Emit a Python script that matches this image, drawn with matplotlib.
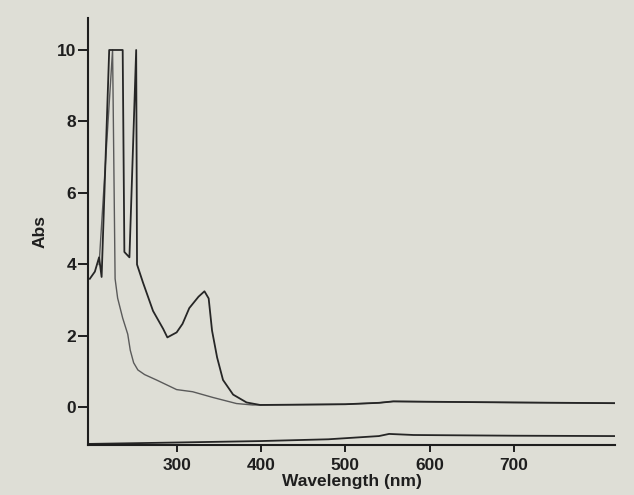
import matplotlib
matplotlib.use("Agg")

import matplotlib.pyplot as plt

# Sample 1 (dark curve): wavelength (nm) and absorbance
wl_dark = [197, 203, 208, 211, 220, 236, 238, 244, 252, 253, 260, 272, 284,
           289, 300, 307, 315, 326, 333, 338, 342, 348, 355, 367, 383, 399,
           450, 500, 540, 557, 600, 700, 820]
abs_dark = [3.6, 3.8, 4.2, 3.65, 10.0, 10.0, 4.35, 4.2, 10.0, 4.0, 3.5, 2.7,
            2.2, 1.96, 2.1, 2.34, 2.78, 3.1, 3.25, 3.05, 2.15, 1.4, 0.77,
            0.36, 0.14, 0.07, 0.08, 0.09, 0.13, 0.17, 0.16, 0.14, 0.12]

# Sample 2 (grey curve)
wl_grey = [208, 224, 227, 230, 236, 242, 245, 249, 254, 262, 276, 300, 319,
           343, 371, 390, 450, 500, 540, 557, 600, 700, 820]
abs_grey = [4.0, 10.0, 3.6, 3.06, 2.5, 2.05, 1.6, 1.25, 1.05, 0.92, 0.77,
            0.5, 0.44, 0.28, 0.11, 0.07, 0.08, 0.09, 0.13, 0.17, 0.16, 0.14,
            0.12]

# Sample 3 (baseline curve near the axis)
wl_base = [195, 300, 399, 480, 540, 552, 581, 700, 820]
abs_base = [-1.02, -0.98, -0.94, -0.89, -0.8, -0.74, -0.77, -0.79, -0.8]

x_ticks = [300, 400, 500, 600, 700]
y_ticks = [0, 2, 4, 6, 8, 10]

plt.rcParams["font.family"] = ["Liberation Sans", "DejaVu Sans"]

fig = plt.figure(figsize=(6.34, 4.95), dpi=100, facecolor="#deded6")
ax = fig.add_axes([0.139, 0.101, 0.831, 0.863])
ax.set_facecolor("#deded6")

ax.plot(wl_grey, abs_grey, color="#5a5a5a", lw=1.0)
ax.plot(wl_dark, abs_dark, color="#262626", lw=1.3)
ax.plot(wl_base, abs_base, color="#262626", lw=1.3)

ax.set_xlim(195, 820)
ax.set_ylim(-1.05, 10.9)
ax.set_xticks(x_ticks)
ax.set_yticks(y_ticks)

for side in ["top", "right"]:
    ax.spines[side].set_visible(False)
for side in ["left", "bottom"]:
    ax.spines[side].set_linewidth(1.5)
    ax.spines[side].set_color("#1e1e1e")

ax.tick_params(axis="both", direction="out", width=1.4, colors="#1e1e1e",
               labelsize=12.5)
ax.tick_params(axis="y", length=7, pad=1.5)
ax.tick_params(axis="x", length=5, pad=4)
for lab in ax.get_xticklabels() + ax.get_yticklabels():
    lab.set_fontweight("bold")

ax.set_xlabel("Wavelength (nm)", fontsize=12.5, fontweight="bold",
              color="#1e1e1e", labelpad=1)
ax.set_ylabel("Abs", fontsize=12.5, fontweight="bold", color="#1e1e1e",
              labelpad=7)

plt.savefig("out.png", dpi=100, facecolor=fig.get_facecolor())
print("Abs plot created")
